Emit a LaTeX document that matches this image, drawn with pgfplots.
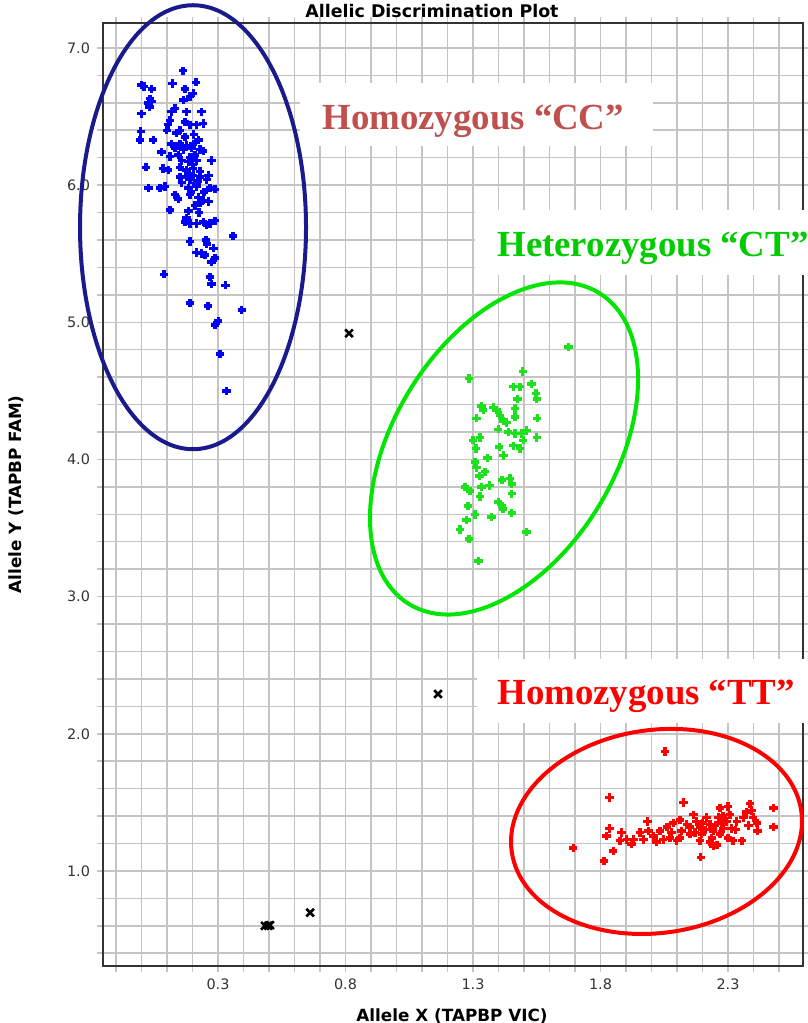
\documentclass[border=0pt]{standalone}
\usepackage{pgfplots}
\pgfplotsset{compat=1.18}
\usepackage{pgfplotstable}
\usepackage{fontspec}
\setmainfont{DejaVu Sans}
\newfontfamily\annfont{Liberation Serif}
\usetikzlibrary{shapes.geometric}
\definecolor{ccred}{RGB}{192,80,77}
\definecolor{ctgreen}{RGB}{0,204,0}
\definecolor{ellblue}{RGB}{26,26,140}
\definecolor{ellgreen}{RGB}{0,230,0}
\definecolor{gridgray}{RGB}{196,196,196}
\definecolor{ptgreen}{RGB}{30,225,30}
\definecolor{ptblue}{RGB}{0,0,250}

\pgfplotstableread{
x y
0.162 6.834
0.000 6.73
0.010 6.72
0.040 6.70
0.122 6.74
0.214 6.75
0.170 6.70
0.203 6.67
0.190 6.645
0.164 6.62
0.033 6.63
0.027 6.60
0.031 6.57
0.040 6.61
0.000 6.52
0.131 6.56
0.118 6.535
0.177 6.535
0.236 6.535
0.112 6.47
0.105 6.44
0.099 6.40
0.170 6.46
0.190 6.44
0.216 6.44
0.242 6.45
0.151 6.40
0.138 6.38
-0.003 6.39
-0.006 6.33
0.046 6.33
0.118 6.30
0.151 6.30
0.177 6.29
0.203 6.30
0.223 6.33
0.131 6.27
0.164 6.26
0.197 6.27
0.229 6.26
0.242 6.25
0.079 6.24
0.112 6.21
0.144 6.22
0.158 6.18
0.184 6.17
0.216 6.18
0.275 6.18
0.018 6.13
0.085 6.12
0.105 6.11
0.151 6.13
0.177 6.11
0.203 6.12
0.229 6.10
0.262 6.07
0.151 6.06
0.177 6.06
0.203 6.07
0.229 6.06
0.158 6.02
0.190 6.04
0.216 6.01
0.256 6.04
0.027 5.98
0.073 5.98
0.092 5.99
0.184 5.98
0.216 5.99
0.269 5.98
0.288 5.97
0.131 5.93
0.144 5.90
0.190 5.93
0.223 5.91
0.242 5.89
0.262 5.88
0.210 5.85
0.229 5.87
0.112 5.82
0.184 5.81
0.177 5.76
0.170 5.73
0.190 5.72
0.216 5.72
0.242 5.73
0.269 5.72
0.288 5.74
0.256 5.71
0.358 5.63
0.190 5.59
0.253 5.60
0.256 5.57
0.282 5.54
0.216 5.51
0.236 5.50
0.249 5.49
0.288 5.47
0.275 5.44
0.088 5.35
0.269 5.33
0.275 5.28
0.329 5.27
0.190 5.14
0.260 5.12
0.393 5.09
0.301 5.01
0.288 4.98
0.308 4.77
0.334 4.50
0.190 6.20
0.200 6.15
0.210 6.22
0.185 6.08
0.220 6.03
0.195 5.95
0.170 6.35
0.205 6.37
0.225 5.80
0.245 5.95
}\bluedata

\pgfplotstableread{
x y
1.674 4.82
1.285 4.59
1.495 4.64
1.458 4.53
1.484 4.53
1.530 4.55
1.547 4.48
1.550 4.44
1.474 4.44
1.334 4.39
1.340 4.36
1.380 4.38
1.393 4.36
1.465 4.37
1.314 4.30
1.406 4.32
1.419 4.28
1.432 4.27
1.465 4.31
1.552 4.30
1.399 4.22
1.438 4.20
1.465 4.19
1.490 4.19
1.510 4.21
1.327 4.16
1.300 4.14
1.550 4.16
1.458 4.10
1.484 4.08
1.497 4.14
1.312 4.08
1.403 4.09
1.419 4.03
1.356 4.01
1.308 3.98
1.314 3.94
1.347 3.91
1.325 3.88
1.413 3.85
1.445 3.86
1.452 3.82
1.269 3.80
1.288 3.77
1.334 3.80
1.364 3.81
1.452 3.75
1.327 3.73
1.399 3.69
1.413 3.66
1.417 3.64
1.281 3.66
1.452 3.61
1.308 3.60
1.275 3.56
1.373 3.58
1.249 3.49
1.510 3.47
1.285 3.42
1.321 3.26
}\greendata

\pgfplotstableread{
x y
2.053 1.871
1.835 1.535
1.693 1.166
1.814 1.073
1.850 1.146
1.835 1.31
1.824 1.255
1.883 1.28
1.903 1.23
1.876 1.22
1.922 1.195
1.929 1.23
1.955 1.28
1.968 1.23
1.988 1.29
1.984 1.36
2.020 1.21
2.046 1.23
2.033 1.29
2.060 1.32
2.085 1.35
2.079 1.28
2.125 1.50
2.112 1.37
2.138 1.34
2.118 1.29
2.151 1.27
2.112 1.24
2.164 1.41
2.177 1.36
2.190 1.32
2.197 1.27
2.190 1.22
2.216 1.39
2.229 1.34
2.242 1.29
2.236 1.24
2.256 1.19
2.193 1.10
2.269 1.46
2.262 1.39
2.275 1.35
2.282 1.31
2.269 1.27
2.300 1.47
2.307 1.41
2.295 1.36
2.314 1.31
2.300 1.24
2.320 1.22
2.354 1.22
2.334 1.36
2.360 1.39
2.373 1.43
2.386 1.49
2.393 1.44
2.399 1.39
2.413 1.35
2.380 1.33
2.415 1.29
2.478 1.46
2.478 1.32
2.242 1.18
2.229 1.21
2.151 1.32
2.171 1.28
2.073 1.24
2.099 1.22
2.007 1.255
2.200 1.35
2.250 1.33
2.280 1.40
2.210 1.30
2.330 1.30
}\reddata

\pgfplotstableread{
x y
0.814 4.92
1.163 2.29
0.484 0.60
0.497 0.60
0.504 0.605
0.661 0.696
}\undetdata

\begin{document}
\begin{tikzpicture}
\begin{axis}[
  at={(0,0)}, anchor=south west,
  scale only axis, width=350pt, height=471.5pt,
  xmin=-0.151, xmax=2.594, ymin=0.307, ymax=7.182,
  xtick={0.3,0.8,1.3,1.8,2.3},
  xticklabels={0.3,0.8,1.3,1.8,2.3},
  minor xtick={-0.1,0,0.1,0.2,0.4,0.5,0.6,0.7,0.9,1.0,1.1,1.2,1.4,1.5,1.6,1.7,1.9,2.0,2.1,2.2,2.4,2.5},
  ytick={1,2,3,4,5,6,7},
  yticklabels={1.0,2.0,3.0,4.0,5.0,6.0,7.0},
  minor ytick={0.4,0.6,0.8,1.2,1.4,1.6,1.8,2.2,2.4,2.6,2.8,3.2,3.4,3.6,3.8,4.2,4.4,4.6,4.8,5.2,5.4,5.6,5.8,6.2,6.4,6.6,6.8,7.2},
  grid=both,
  major grid style={gridgray, line width=0.75pt},
  minor grid style={gridgray, line width=0.75pt},
  tick align=outside,
  major tick length=3pt, minor tick length=3pt,
  every tick/.style={gridgray, line width=0.75pt},
  axis line style={black!80, line width=1pt},
  ticklabel style={font=\fontsize{7.2}{8}\selectfont, text=black!80},
  clip=false,
]
\addplot[only marks, mark=+, mark size=2.1pt, line width=1.7pt, color=ptblue] table {\bluedata};
\addplot[only marks, mark=+, mark size=2.1pt, line width=1.7pt, color=ptgreen] table {\greendata};
\addplot[only marks, mark=+, mark size=2.1pt, line width=1.7pt, color=red] table {\reddata};
\addplot[only marks, mark=x, mark size=2.7pt, line width=1.3pt, color=black] table {\undetdata};

\node[draw=ellblue, line width=2pt, ellipse, minimum width=113pt, minimum height=222pt, inner sep=0pt] at (axis cs:0.202,5.693) {};
\node[draw=ellgreen, line width=2pt, ellipse, minimum width=182.3pt, minimum height=110.9pt, inner sep=0pt, rotate=58.65] at (axis cs:1.4216,4.08) {};
\node[draw=red, line width=2pt, ellipse, minimum width=146.2pt, minimum height=101.5pt, inner sep=0pt, rotate=7.9] at (axis cs:2.0196,1.288) {};

\fill[white] (axis cs:0.6216,6.285) rectangle (axis cs:2.006,6.745);
\node[anchor=base west, inner sep=0pt, text=ccred, font=\annfont\bfseries\fontsize{18.4}{20}\selectfont] at (axis cs:0.708,6.409) {Homozygous “CC”};
\fill[white] (axis cs:1.308,5.343) rectangle (axis cs:2.7,5.818);
\node[anchor=base west, inner sep=0pt, text=ctgreen, font=\annfont\bfseries\fontsize{18.4}{20}\selectfont] at (axis cs:1.394,5.482) {Heterozygous “CT”};
\fill[white] (axis cs:1.316,2.080) rectangle (axis cs:2.7,2.547);
\node[anchor=base west, inner sep=0pt, text=red, font=\annfont\bfseries\fontsize{18.4}{20}\selectfont] at (axis cs:1.394,2.212) {Homozygous “TT”};
\end{axis}
\node[anchor=base, inner sep=0pt, font=\bfseries\fontsize{8.7}{10}\selectfont] at (164.5pt,474pt) {Allelic Discrimination Plot};
\node[anchor=base, inner sep=0pt, font=\bfseries\fontsize{8.4}{10}\selectfont] at (174.5pt,-27.8pt) {Allele X (TAPBP VIC)};
\node[anchor=center, inner sep=0pt, rotate=90, font=\bfseries\fontsize{8.4}{10}\selectfont] at (-43.5pt,235.75pt) {Allele Y (TAPBP FAM)};
\pgfresetboundingbox
\path[use as bounding box] (-51.5pt,-28.5pt) rectangle (352.5pt,483pt);
\end{tikzpicture}
\end{document}
